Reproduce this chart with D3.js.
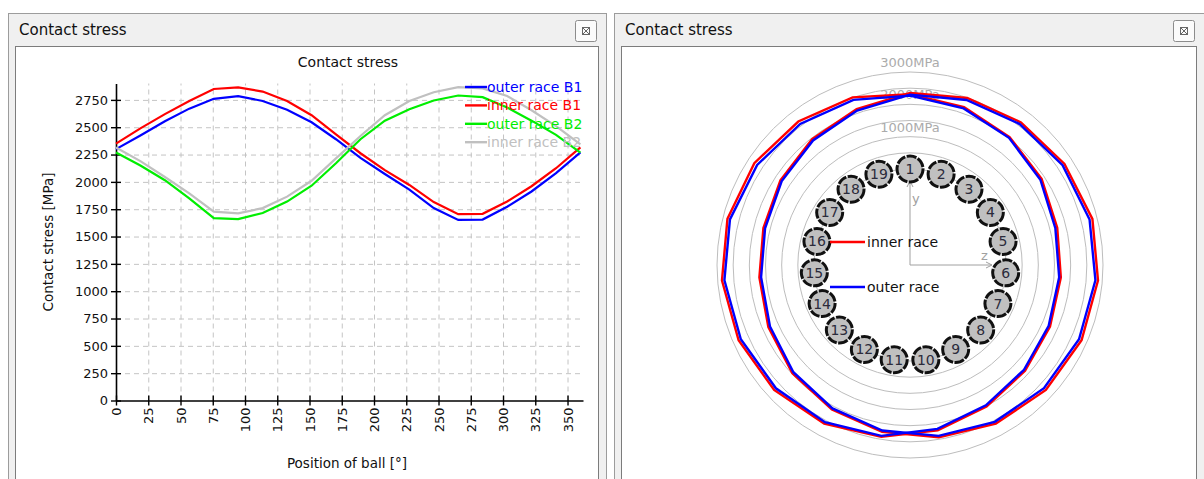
<!DOCTYPE html>
<meta charset="utf-8">
<script src="https://d3js.org/d3.v7.min.js"></script>
<style>
  body { margin: 0; background: #fff; }
  svg { display: block; }
  text { font-family: "DejaVu Sans", Verdana, sans-serif; }
</style>
<body>
<svg width="1204" height="479"></svg>
<script>

    // ball positions [deg] (19 balls + wrap to 360)
    var positions = [0, 18.9, 37.9, 56.8, 75.8, 94.7, 113.7, 132.6, 151.6, 170.5,
                     189.5, 208.4, 227.4, 246.3, 265.3, 284.2, 303.2, 322.1, 341.1, 360];
    var ballNumbers = [1, 2, 3, 4, 5, 6, 7, 8, 9, 10, 11, 12, 13, 14, 15, 16, 17, 18, 19];

    // contact stress [MPa]
    var outerB1 = [2300, 2425, 2555, 2670, 2760, 2785, 2740, 2660, 2545, 2390,
                   2220, 2072, 1930, 1760, 1652, 1655, 1772, 1912, 2080, 2270];
    var innerB1 = [2350, 2490, 2620, 2740, 2850, 2865, 2826, 2740, 2610, 2435,
                   2262, 2108, 1972, 1815, 1705, 1708, 1820, 1960, 2125, 2315];
    var outerB2 = [2268, 2150, 2015, 1850, 1668, 1660, 1715, 1820, 1965, 2170,
                   2390, 2560, 2665, 2745, 2790, 2775, 2680, 2560, 2430, 2268];
    var innerB2 = [2314, 2190, 2045, 1895, 1728, 1712, 1760, 1865, 2010, 2215,
                   2420, 2610, 2740, 2820, 2866, 2855, 2785, 2655, 2510, 2342];

    var xTicks = [0, 25, 50, 75, 100, 125, 150, 175, 200, 225, 250, 275, 300, 325, 350];
    var yTicks = [0, 250, 500, 750, 1000, 1250, 1500, 1750, 2000, 2250, 2500, 2750];
    var ringValues = [0, 500, 1000, 1500, 2000, 2500, 3000];
    var ringLabels = [1000, 2000, 3000];

    var series = [
        { name: 'outer race B1', values: outerB1, color: '#0000ff' },
        { name: 'inner race B1', values: innerB1, color: '#ff0000' },
        { name: 'outer race B2', values: outerB2, color: '#00ee00' },
        { name: 'inner race B2', values: innerB2, color: '#c0c0c0' }
    ];

    var svg = d3.select('svg');

    // ---------------- window frames ----------------
    function drawWindow(x, w, title) {
        var g = svg.append('g');
        g.append('rect').attr('x', x + 0.5).attr('y', 13.5).attr('width', w).attr('height', 480)
            .attr('fill', '#f0f0f0').attr('stroke', '#9c9c9c');
        g.append('text').attr('x', x + 11).attr('y', 35).text(title)
            .attr('font-size', '15px').attr('fill', '#111');
        var bx = x + w - 31;
        g.append('rect').attr('x', bx + 0.5).attr('y', 20.5).attr('width', 21).attr('height', 21)
            .attr('rx', 2).attr('fill', '#fbfbfb').attr('stroke', '#8c8c8c');
        g.append('rect').attr('x', bx + 7.5).attr('y', 27.5).attr('width', 7).attr('height', 7)
            .attr('fill', 'none').attr('stroke', '#666');
        g.append('path').attr('d', 'M' + (bx + 8) + ',28 L' + (bx + 14) + ',34 M' + (bx + 14) + ',28 L' + (bx + 8) + ',34')
            .attr('stroke', '#666').attr('stroke-width', 1);
        g.append('rect').attr('x', x + 7.5).attr('y', 46.5).attr('width', w - 15).attr('height', 440)
            .attr('fill', '#fff').attr('stroke', '#7c7c7c');
    }
    drawWindow(8, 598, 'Contact stress');
    drawWindow(614, 590, 'Contact stress');

    // ---------------- left: line chart ----------------
    var x = d3.scaleLinear().domain([0, 362]).range([116, 583]);
    var y = d3.scaleLinear().domain([0, 2900]).range([400.5, 83.5]);
    var chart = svg.append('g');

    // grid
    chart.append('g').attr('transform', 'translate(0,' + y(0) + ')')
        .call(d3.axisBottom(x).tickValues(xTicks.slice(1)).tickSize(-(y(0) - y(2900))).tickFormat(''))
        .call(function(g){ g.select('.domain').remove(); })
        .selectAll('line').attr('stroke', '#c4c4c4').attr('stroke-dasharray', '5,4');
    chart.append('g').attr('transform', 'translate(' + x(0) + ',0)')
        .call(d3.axisLeft(y).tickValues(yTicks.slice(1)).tickSize(-(x(362) - x(0))).tickFormat(''))
        .call(function(g){ g.select('.domain').remove(); })
        .selectAll('line').attr('stroke', '#c4c4c4').attr('stroke-dasharray', '5,4');

    // axes
    var xAxis = chart.append('g').attr('transform', 'translate(0,' + y(0) + ')')
        .call(d3.axisBottom(x).tickValues(xTicks).tickFormat(d3.format('d')).tickSizeOuter(0));
    xAxis.select('.domain').attr('stroke', '#000').attr('stroke-width', 1.6);
    xAxis.selectAll('.tick line').attr('y1', -5).attr('y2', 5).attr('stroke-width', 1.4);
    xAxis.selectAll('.tick text')
        .attr('transform', 'rotate(-90)').attr('text-anchor', 'end')
        .attr('x', -7).attr('y', 0).attr('dy', '0.36em')
        .attr('font-size', '13px').attr('fill', '#111');

    var yAxis = chart.append('g').attr('transform', 'translate(' + x(0) + ',0)')
        .call(d3.axisLeft(y).tickValues(yTicks).tickFormat(d3.format('d')).tickSizeOuter(0));
    yAxis.select('.domain').attr('stroke', '#000').attr('stroke-width', 1.6);
    yAxis.selectAll('.tick line').attr('x1', -5).attr('x2', 5).attr('stroke-width', 1.4);
    yAxis.selectAll('.tick text').attr('x', -8)
        .attr('font-size', '13px').attr('fill', '#111');

    chart.append('text').attr('x', 348).attr('y', 67).attr('text-anchor', 'middle')
        .attr('font-size', '14px').attr('fill', '#111').text('Contact stress');
    chart.append('text').attr('x', 347).attr('y', 468).attr('text-anchor', 'middle')
        .attr('font-size', '13.5px').attr('fill', '#111').text('Position of ball [°]');
    chart.append('text').attr('transform', 'translate(53,242) rotate(-90)').attr('text-anchor', 'middle')
        .attr('font-size', '13.5px').attr('fill', '#111').text('Contact stress [MPa]');

    var line = d3.line()
        .x(function(d, i){ return x(positions[i]); })
        .y(function(d){ return y(d); });

    chart.selectAll('path.series').data(series).enter().append('path')
        .attr('class', 'series')
        .attr('d', function(d){ return line(d.values); })
        .attr('fill', 'none')
        .attr('stroke', function(d){ return d.color; })
        .attr('stroke-width', 2.2);

    // legend
    var legend = chart.selectAll('g.legend').data(series).enter().append('g')
        .attr('class', 'legend')
        .attr('transform', function(d, i){ return 'translate(465,' + (87 + i * 18.4) + ')'; });
    legend.append('line').attr('x1', 0).attr('x2', 22).attr('y1', 0).attr('y2', 0)
        .attr('stroke', function(d){ return d.color; }).attr('stroke-width', 2.4);
    legend.append('text').attr('x', 22).attr('y', 5)
        .attr('font-size', '14px').attr('fill', function(d){ return d.color; })
        .text(function(d){ return d.name; });

    // ---------------- right: polar chart ----------------
    var cx = 910, cy = 265;
    var r = d3.scaleLinear().domain([0, 3000]).range([96, 193]);
    var angle = d3.scaleLinear().domain([0, 360]).range([0, 2 * Math.PI]);
    var polar = svg.append('g').attr('transform', 'translate(' + cx + ',' + cy + ')');

    polar.selectAll('circle.ring').data(ringValues).enter().append('circle')
        .attr('class', 'ring').attr('r', function(d){ return r(d); })
        .attr('fill', 'none').attr('stroke', '#bdbdbd').attr('stroke-width', 1);

    polar.selectAll('text.ringlabel').data(ringLabels).enter().append('text')
        .attr('class', 'ringlabel').attr('x', 0).attr('y', function(d){ return -r(d) - 5; })
        .attr('text-anchor', 'middle').attr('font-size', '13px').attr('fill', '#ababab')
        .text(function(d){ return d + 'MPa'; });

    var radial = d3.lineRadial()
        .angle(function(d, i){ return angle(positions[i]); })
        .radius(function(d){ return r(d); })
        .curve(d3.curveLinearClosed);

    var polySeries = [
        { values: innerB1.slice(0, 19), color: '#ff0000' },
        { values: innerB2.slice(0, 19), color: '#ff0000' },
        { values: outerB1.slice(0, 19), color: '#0000ff' },
        { values: outerB2.slice(0, 19), color: '#0000ff' }
    ];
    polar.selectAll('path.poly').data(polySeries).enter().append('path')
        .attr('class', 'poly')
        .attr('d', function(d){ return radial(d.values); })
        .attr('fill', 'none')
        .attr('stroke', function(d){ return d.color; })
        .attr('stroke-width', 2.4);

    // coordinate axes
    var axisColor = '#a0a0a0';
    polar.append('path').attr('d', 'M0,0 L0,-84 M-3,-78 L0,-84 L3,-78')
        .attr('fill', 'none').attr('stroke', axisColor).attr('stroke-width', 1);
    polar.append('path').attr('d', 'M0,0 L82,0 M76,-3 L82,0 L76,3')
        .attr('fill', 'none').attr('stroke', axisColor).attr('stroke-width', 1);
    polar.append('text').attr('x', 2).attr('y', -62).attr('font-size', '13px').attr('fill', axisColor).text('y');
    polar.append('text').attr('x', 71).attr('y', -5).attr('font-size', '13px').attr('fill', axisColor).text('z');

    // balls
    var balls = polar.selectAll('g.ball').data(ballNumbers).enter().append('g')
        .attr('class', 'ball')
        .attr('transform', function(d, i){
            var a = angle(positions[i]);
            return 'translate(' + (r(0) * Math.sin(a)) + ',' + (-r(0) * Math.cos(a)) + ')';
        });
    balls.append('circle').attr('r', 13)
        .attr('fill', '#c0c0c0').attr('stroke', '#111').attr('stroke-width', 3)
        .attr('stroke-dasharray', '10,1.5');
    balls.append('text').attr('y', 5).attr('text-anchor', 'middle')
        .attr('font-size', '14px').attr('fill', '#2b2b3b')
        .text(function(d){ return d; });

    // legend
    var pLegend = [{ name: 'inner race', color: '#ff0000', y: -23 }, { name: 'outer race', color: '#0000ff', y: 22 }];
    var pl = polar.selectAll('g.plegend').data(pLegend).enter().append('g')
        .attr('class', 'plegend')
        .attr('transform', function(d){ return 'translate(-80,' + d.y + ')'; });
    pl.append('line').attr('x1', 0).attr('x2', 35).attr('y1', 0).attr('y2', 0)
        .attr('stroke', function(d){ return d.color; }).attr('stroke-width', 2.4);
    pl.append('text').attr('x', 37).attr('y', 5).attr('font-size', '14px').attr('fill', '#111')
        .text(function(d){ return d.name; });

</script>
</body>
